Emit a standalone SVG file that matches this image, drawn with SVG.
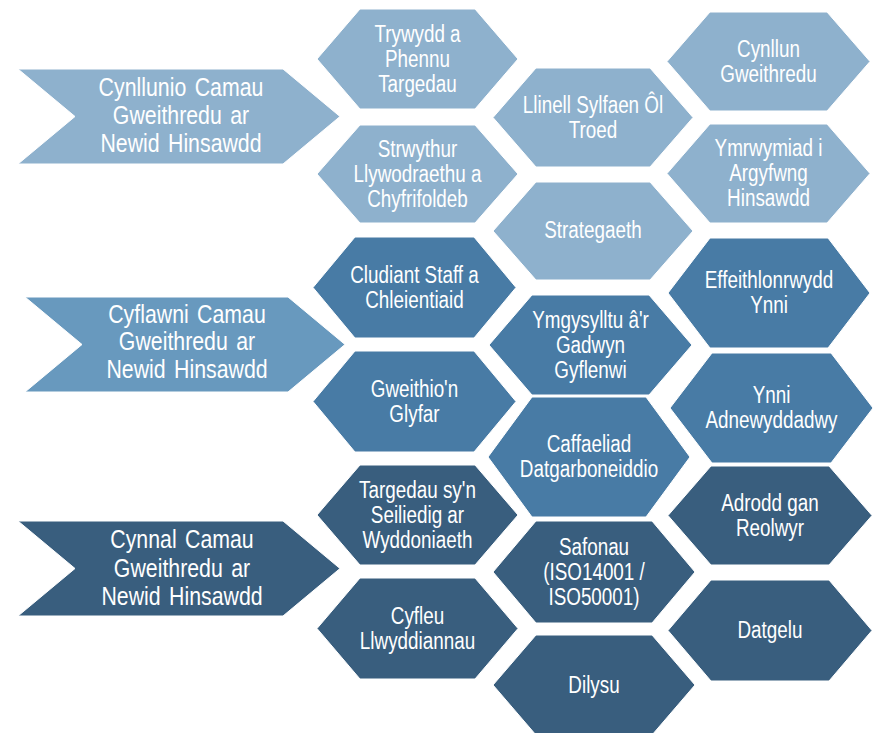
<svg xmlns="http://www.w3.org/2000/svg" width="873" height="733" viewBox="0 0 873 733">
<style>
.l{fill:#8EB1CD}
.m{fill:#487BA5}
.d{fill:#395E7E}
.c2{fill:#6899BE}
polygon{stroke:#ffffff;stroke-width:1}
text{fill:#ffffff;font-family:'Liberation Sans',Arial,sans-serif;text-anchor:middle}
.h{font-size:23px}
.cv{font-size:26px;word-spacing:3px}
</style>
<rect width="873" height="733" fill="#ffffff"/>
<g id="connectors"/>
<g id="chevron-plan">
<polygon class="l" points="18,69 283,69 340,116.5 283,164 18,164 75,116.5"/>
<text class="cv" transform="matrix(0.82 0 0 1 32.58 0)"><tspan x="181" y="96">Cynllunio Camau</tspan><tspan x="181" y="124">Gweithredu ar</tspan><tspan x="181" y="152">Newid Hinsawdd</tspan></text>
</g>
<g id="chevron-deliver">
<polygon class="c2" points="25,297 288,297 345,344.5 288,392 25,392 82,344.5"/>
<text class="cv" transform="matrix(0.82 0 0 1 33.66 0)"><tspan x="187" y="323">Cyflawni Camau</tspan><tspan x="187" y="350">Gweithredu ar</tspan><tspan x="187" y="378">Newid Hinsawdd</tspan></text>
</g>
<g id="chevron-maintain">
<polygon class="d" points="18,521 283,521 340,568.5 283,616 18,616 75,568.5"/>
<text class="cv" transform="matrix(0.82 0 0 1 32.76 0)"><tspan x="182" y="548">Cynnal Camau</tspan><tspan x="182" y="577">Gweithredu ar</tspan><tspan x="182" y="605">Newid Hinsawdd</tspan></text>
</g>
<g id="hex-trywydd">
<polygon class="l" points="317,59 360,9 475,9 518,59 475,109 360,109"/>
<text class="h" transform="matrix(0.82 0 0 1 75.15 0)"><tspan x="417.5" y="42">Trywydd a</tspan><tspan x="417.5" y="67">Phennu</tspan><tspan x="417.5" y="92">Targedau</tspan></text>
</g>
<g id="hex-strwythur">
<polygon class="l" points="317,174 360,125 475,125 518,174 475,223 360,223"/>
<text class="h" transform="matrix(0.82 0 0 1 75.15 0)"><tspan x="417.5" y="157">Strwythur</tspan><tspan x="417.5" y="182">Llywodraethu a</tspan><tspan x="417.5" y="207">Chyfrifoldeb</tspan></text>
</g>
<g id="hex-cludiant">
<polygon class="m" points="313,287.5 355,237 474,237 516,287.5 474,338 355,338"/>
<text class="h" transform="matrix(0.82 0 0 1 74.61 0)"><tspan x="414.5" y="283">Cludiant Staff a</tspan><tspan x="414.5" y="308">Chleientiaid</tspan></text>
</g>
<g id="hex-gweithio">
<polygon class="m" points="313,401.5 355,351 474,351 516,401.5 474,452 355,452"/>
<text class="h" transform="matrix(0.82 0 0 1 74.61 0)"><tspan x="414.5" y="397">Gweithio'n</tspan><tspan x="414.5" y="422">Glyfar</tspan></text>
</g>
<g id="hex-targedau">
<polygon class="d" points="317,515 360,465 475,465 518,515 475,565 360,565"/>
<text class="h" transform="matrix(0.82 0 0 1 75.15 0)"><tspan x="417.5" y="498">Targedau sy'n</tspan><tspan x="417.5" y="523">Seiliedig ar</tspan><tspan x="417.5" y="548">Wyddoniaeth</tspan></text>
</g>
<g id="hex-cyfleu">
<polygon class="d" points="317,628.5 360,578 475,578 518,628.5 475,679 360,679"/>
<text class="h" transform="matrix(0.82 0 0 1 75.15 0)"><tspan x="417.5" y="624">Cyfleu</tspan><tspan x="417.5" y="649">Llwyddiannau</tspan></text>
</g>
<g id="hex-llinell">
<polygon class="l" points="493,117.5 536,68 650,68 693,117.5 650,167 536,167"/>
<text class="h" transform="matrix(0.82 0 0 1 106.74 0)"><tspan x="593" y="113">Llinell Sylfaen Ôl</tspan><tspan x="593" y="138">Troed</tspan></text>
</g>
<g id="hex-strategaeth">
<polygon class="l" points="493,231 536,182 650,182 693,231 650,280 536,280"/>
<text class="h" transform="matrix(0.82 0 0 1 106.74 0)" x="593" y="238">Strategaeth</text>
</g>
<g id="hex-ymgysylltu">
<polygon class="m" points="489,345 532,295 649,295 692,345 649,395 532,395"/>
<text class="h" transform="matrix(0.82 0 0 1 106.29 0)"><tspan x="590.5" y="328">Ymgysylltu â'r</tspan><tspan x="590.5" y="353">Gadwyn</tspan><tspan x="590.5" y="378">Gyflenwi</tspan></text>
</g>
<g id="hex-caffaeliad">
<polygon class="m" points="488,457 532,397 646,397 690,457 646,517 532,517"/>
<text class="h" transform="matrix(0.82 0 0 1 106.02 0)"><tspan x="589" y="452.5">Caffaeliad</tspan><tspan x="589" y="477.5">Datgarboneiddio</tspan></text>
</g>
<g id="hex-safonau">
<polygon class="d" points="493,572 536,521 652,521 695,572 652,623 536,623"/>
<text class="h" transform="matrix(0.82 0 0 1 106.92 0)"><tspan x="594" y="555">Safonau</tspan><tspan x="594" y="580">(ISO14001 /</tspan><tspan x="594" y="605">ISO50001)</tspan></text>
</g>
<g id="hex-dilysu">
<polygon class="d" points="493,685 536,635 652,635 695,685 652,735 536,735"/>
<text class="h" transform="matrix(0.82 0 0 1 106.92 0)" x="594" y="693">Dilysu</text>
</g>
<g id="hex-cynllun">
<polygon class="l" points="667,61.5 710,12 827,12 870,61.5 827,111 710,111"/>
<text class="h" transform="matrix(0.82 0 0 1 138.33 0)"><tspan x="768.5" y="57">Cynllun</tspan><tspan x="768.5" y="82">Gweithredu</tspan></text>
</g>
<g id="hex-ymrwymiad">
<polygon class="l" points="667,173.5 710,124 827,124 870,173.5 827,223 710,223"/>
<text class="h" transform="matrix(0.82 0 0 1 138.33 0)"><tspan x="768.5" y="156.5">Ymrwymiad i</tspan><tspan x="768.5" y="181.5">Argyfwng</tspan><tspan x="768.5" y="206.5">Hinsawdd</tspan></text>
</g>
<g id="hex-effeithlonrwydd">
<polygon class="m" points="668,293 710,238 828,238 870,293 828,348 710,348"/>
<text class="h" transform="matrix(0.82 0 0 1 138.42 0)"><tspan x="769" y="288.5">Effeithlonrwydd</tspan><tspan x="769" y="313.5">Ynni</tspan></text>
</g>
<g id="hex-ynni">
<polygon class="m" points="670,408 712,353 831,353 873,408 831,463 712,463"/>
<text class="h" transform="matrix(0.82 0 0 1 138.87 0)"><tspan x="771.5" y="403.5">Ynni</tspan><tspan x="771.5" y="428.5">Adnewyddadwy</tspan></text>
</g>
<g id="hex-adrodd">
<polygon class="d" points="668,515.5 711,466 829,466 872,515.5 829,565 711,565"/>
<text class="h" transform="matrix(0.82 0 0 1 138.6 0)"><tspan x="770" y="511">Adrodd gan</tspan><tspan x="770" y="536">Reolwyr</tspan></text>
</g>
<g id="hex-datgelu">
<polygon class="d" points="668,630.5 711,580 829,580 872,630.5 829,681 711,681"/>
<text class="h" transform="matrix(0.82 0 0 1 138.6 0)" x="770" y="638.5">Datgelu</text>
</g>
</svg>
